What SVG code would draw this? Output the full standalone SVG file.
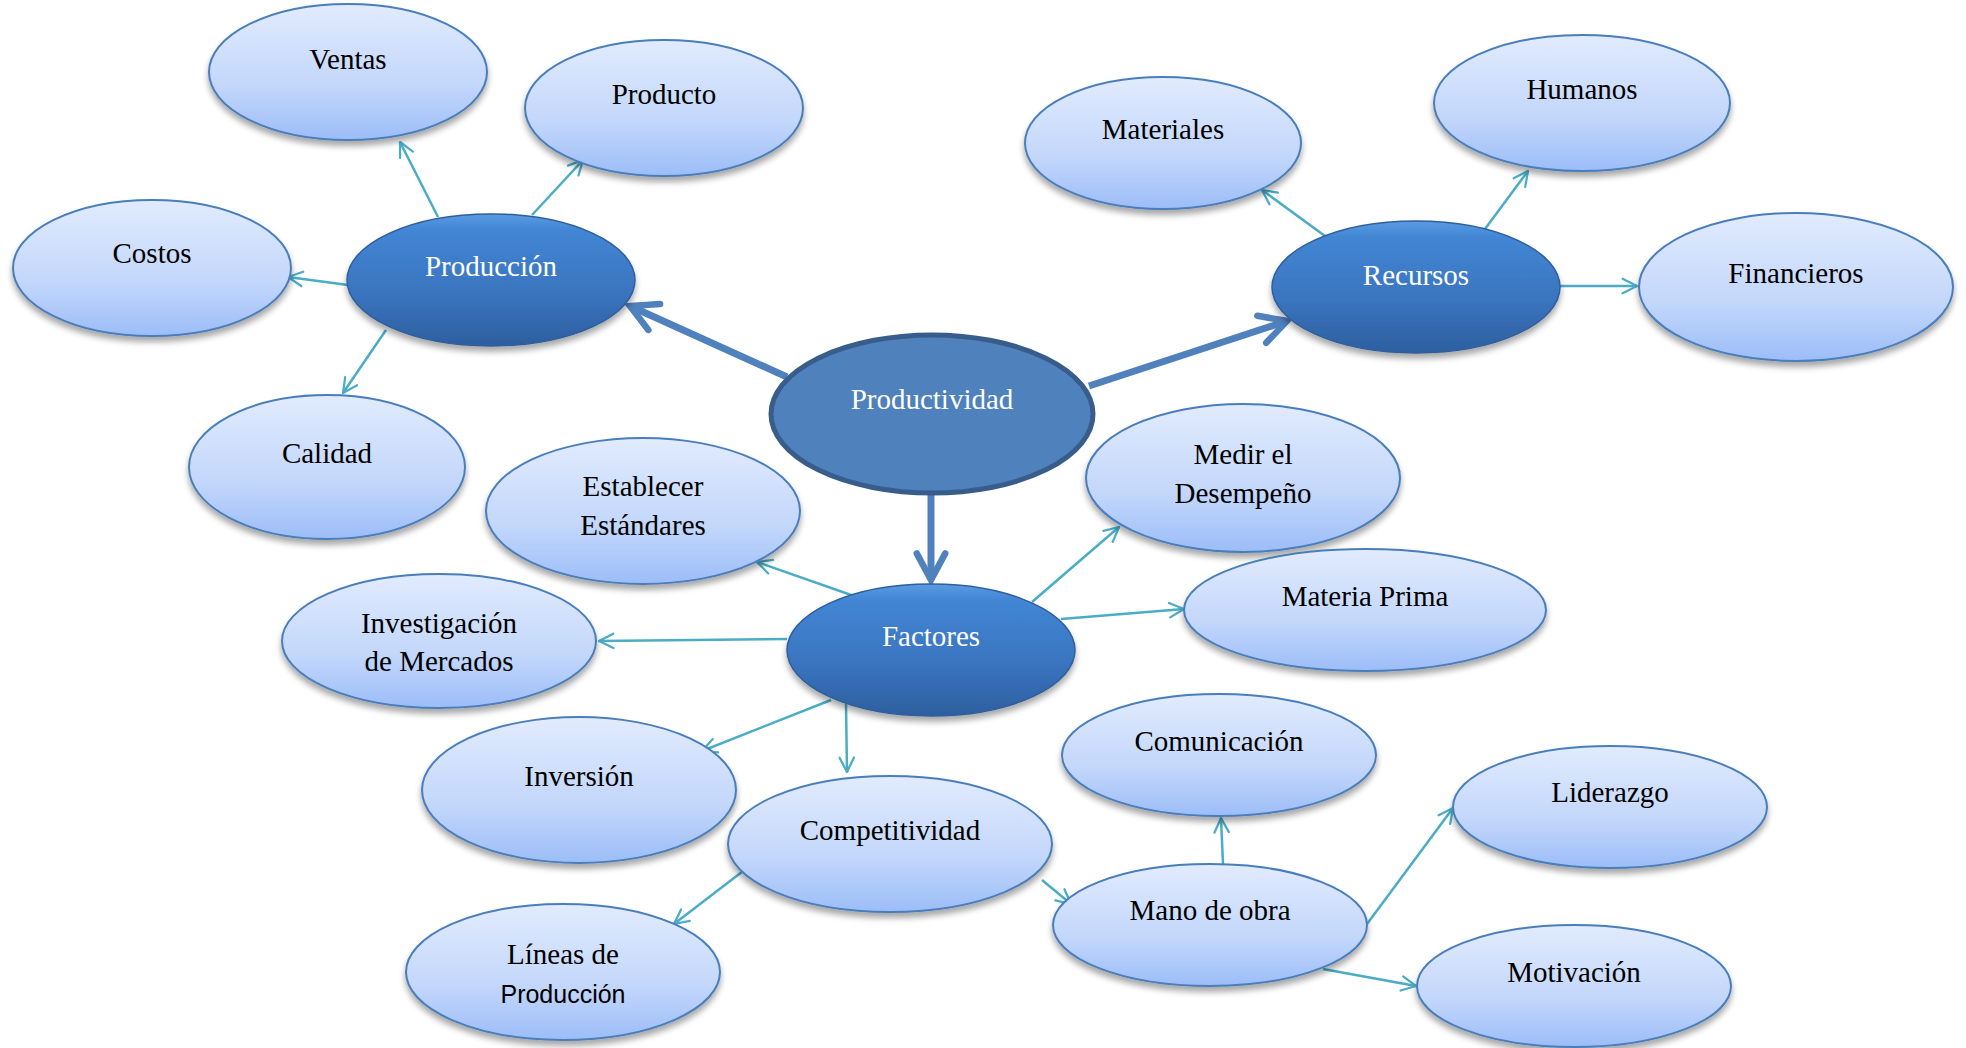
<svg xmlns="http://www.w3.org/2000/svg" width="1966" height="1048" viewBox="0 0 1966 1048">
<defs>
  <linearGradient id="gLight" x1="0" y1="0" x2="0" y2="1">
    <stop offset="0" stop-color="#e1ebfd"/>
    <stop offset="0.6" stop-color="#c3d7fb"/>
    <stop offset="1" stop-color="#9cbdf8"/>
  </linearGradient>
  <linearGradient id="gDark" x1="0" y1="0" x2="0" y2="1">
    <stop offset="0" stop-color="#5a9be2"/>
    <stop offset="0.12" stop-color="#4286d4"/>
    <stop offset="0.6" stop-color="#3a74bf"/>
    <stop offset="1" stop-color="#2d5f9f"/>
  </linearGradient>
  <filter id="shadow" x="-20%" y="-20%" width="140%" height="150%">
    <feGaussianBlur in="SourceAlpha" stdDeviation="3"/>
    <feOffset dx="0" dy="5" result="b"/>
    <feComponentTransfer><feFuncA type="linear" slope="0.35"/></feComponentTransfer>
    <feMerge><feMergeNode/><feMergeNode in="SourceGraphic"/></feMerge>
  </filter>
  <marker id="aThin" viewBox="0 0 20 20" refX="18" refY="10" markerWidth="18" markerHeight="18" markerUnits="userSpaceOnUse" orient="auto">
    <path d="M2,2 L18,10 L2,18" fill="none" stroke="#4bacc6" stroke-width="2.5" stroke-linecap="round" stroke-linejoin="round"/>
  </marker>
  <marker id="aThick" viewBox="0 0 20 20" refX="17" refY="10" markerWidth="38" markerHeight="38" markerUnits="userSpaceOnUse" orient="auto">
    <path d="M3,2.5 L17,10 L3,17.5" fill="none" stroke="#4f81bd" stroke-width="3.4" stroke-linecap="round" stroke-linejoin="miter"/>
  </marker>
  <style>
    .lt ellipse { fill: url(#gLight); stroke: #4a7ebb; stroke-width: 2; filter: url(#shadow); }
    .dk ellipse { fill: url(#gDark); stroke: #2f5f9c; stroke-width: 1.5; filter: url(#shadow); }
    .t { font-family: "Liberation Serif", "Times New Roman", serif; font-size: 29px; text-anchor: middle; fill: #000; }
    .dk .t, .ctr .t { fill: #fff; }
    .s { font-family: "Liberation Sans", Arial, sans-serif; font-size: 25px; text-anchor: middle; fill: #000; }
    .thin { stroke: #4bacc6; stroke-width: 2.5; fill: none; marker-end: url(#aThin); }
    .thick { stroke: #4f81bd; stroke-width: 7; fill: none; marker-end: url(#aThick); }
  </style>
</defs>
<rect width="1966" height="1048" fill="#fff"/>

<g id="connectors">
  <line class="thick" x1="787" y1="377" x2="630" y2="306"/>
  <line class="thick" x1="1089" y1="386" x2="1287" y2="321"/>
  <line class="thick" x1="931" y1="495" x2="931" y2="580"/>
  <line class="thin" x1="438" y1="217" x2="400" y2="142"/>
  <line class="thin" x1="532" y1="215" x2="583" y2="160"/>
  <line class="thin" x1="348" y1="285" x2="288" y2="277"/>
  <line class="thin" x1="386" y1="330" x2="343" y2="393"/>
  <line class="thin" x1="1325" y1="236" x2="1262" y2="190"/>
  <line class="thin" x1="1485" y1="229" x2="1528" y2="171"/>
  <line class="thin" x1="1560" y1="286" x2="1637" y2="286"/>
  <line class="thin" x1="854" y1="596" x2="757" y2="562"/>
  <line class="thin" x1="787" y1="639" x2="599" y2="641"/>
  <line class="thin" x1="831" y1="700" x2="702" y2="751"/>
  <line class="thin" x1="846" y1="704" x2="847" y2="772"/>
  <line class="thin" x1="1032" y1="602" x2="1119" y2="527"/>
  <line class="thin" x1="1061" y1="619" x2="1184" y2="609"/>
  <line class="thin" x1="747" y1="868" x2="674" y2="924"/>
  <line class="thin" x1="1042" y1="880" x2="1071" y2="904"/>
  <line class="thin" x1="1223" y1="864" x2="1221" y2="818"/>
  <line class="thin" x1="1367" y1="924" x2="1453" y2="808"/>
  <line class="thin" x1="1323" y1="969" x2="1416" y2="986"/>
</g>

<g id="ventas" class="lt"><ellipse cx="348" cy="72" rx="139" ry="68"/><text class="t" x="348" y="69">Ventas</text></g>
<g id="producto" class="lt"><ellipse cx="664" cy="108" rx="139" ry="68"/><text class="t" x="664" y="104">Producto</text></g>
<g id="costos" class="lt"><ellipse cx="152" cy="268" rx="139" ry="68"/><text class="t" x="152" y="263">Costos</text></g>
<g id="calidad" class="lt"><ellipse cx="327" cy="467" rx="138" ry="72"/><text class="t" x="327" y="463">Calidad</text></g>
<g id="materiales" class="lt"><ellipse cx="1163" cy="143" rx="138" ry="66"/><text class="t" x="1163" y="139">Materiales</text></g>
<g id="humanos" class="lt"><ellipse cx="1582" cy="103" rx="148" ry="68"/><text class="t" x="1582" y="99">Humanos</text></g>
<g id="financieros" class="lt"><ellipse cx="1796" cy="287" rx="157" ry="74"/><text class="t" x="1796" y="283">Financieros</text></g>
<g id="establecer" class="lt"><ellipse cx="643" cy="511" rx="157" ry="73"/><text class="t" x="643" y="496">Establecer</text><text class="t" x="643" y="535">Estándares</text></g>
<g id="medir" class="lt"><ellipse cx="1243" cy="478" rx="157" ry="74"/><text class="t" x="1243" y="464">Medir el</text><text class="t" x="1243" y="503">Desempeño</text></g>
<g id="investigacion" class="lt"><ellipse cx="439" cy="641" rx="157" ry="67"/><text class="t" x="439" y="633">Investigación</text><text class="t" x="439" y="671">de Mercados</text></g>
<g id="materia-prima" class="lt"><ellipse cx="1365" cy="610" rx="181" ry="61"/><text class="t" x="1365" y="606">Materia Prima</text></g>
<g id="inversion" class="lt"><ellipse cx="579" cy="790" rx="157" ry="73"/><text class="t" x="579" y="786">Inversión</text></g>
<g id="competitividad" class="lt"><ellipse cx="890" cy="844" rx="162" ry="68"/><text class="t" x="890" y="840">Competitividad</text></g>
<g id="lineas" class="lt"><ellipse cx="563" cy="972" rx="157" ry="68"/><text class="t" x="563" y="964">Líneas de</text><text class="s" x="563" y="1003">Producción</text></g>
<g id="comunicacion" class="lt"><ellipse cx="1219" cy="755" rx="157" ry="61"/><text class="t" x="1219" y="751">Comunicación</text></g>
<g id="liderazgo" class="lt"><ellipse cx="1610" cy="807" rx="157" ry="61"/><text class="t" x="1610" y="802">Liderazgo</text></g>
<g id="mano-de-obra" class="lt"><ellipse cx="1210" cy="925" rx="157" ry="61"/><text class="t" x="1210" y="920">Mano de obra</text></g>
<g id="motivacion" class="lt"><ellipse cx="1574" cy="986" rx="157" ry="61"/><text class="t" x="1574" y="982">Motivación</text></g>

<g id="produccion" class="dk"><ellipse cx="491" cy="280" rx="144" ry="66"/><text class="t" x="491" y="276">Producción</text></g>
<g id="recursos" class="dk"><ellipse cx="1416" cy="287" rx="144" ry="66"/><text class="t" x="1416" y="285">Recursos</text></g>
<g id="factores" class="dk"><ellipse cx="931" cy="650" rx="144" ry="66"/><text class="t" x="931" y="646">Factores</text></g>
<g id="productividad" class="ctr"><ellipse cx="932" cy="414" rx="161" ry="79" fill="#4f81bd" stroke="#385d8a" stroke-width="5"/><text class="t" x="932" y="409">Productividad</text></g>
</svg>
